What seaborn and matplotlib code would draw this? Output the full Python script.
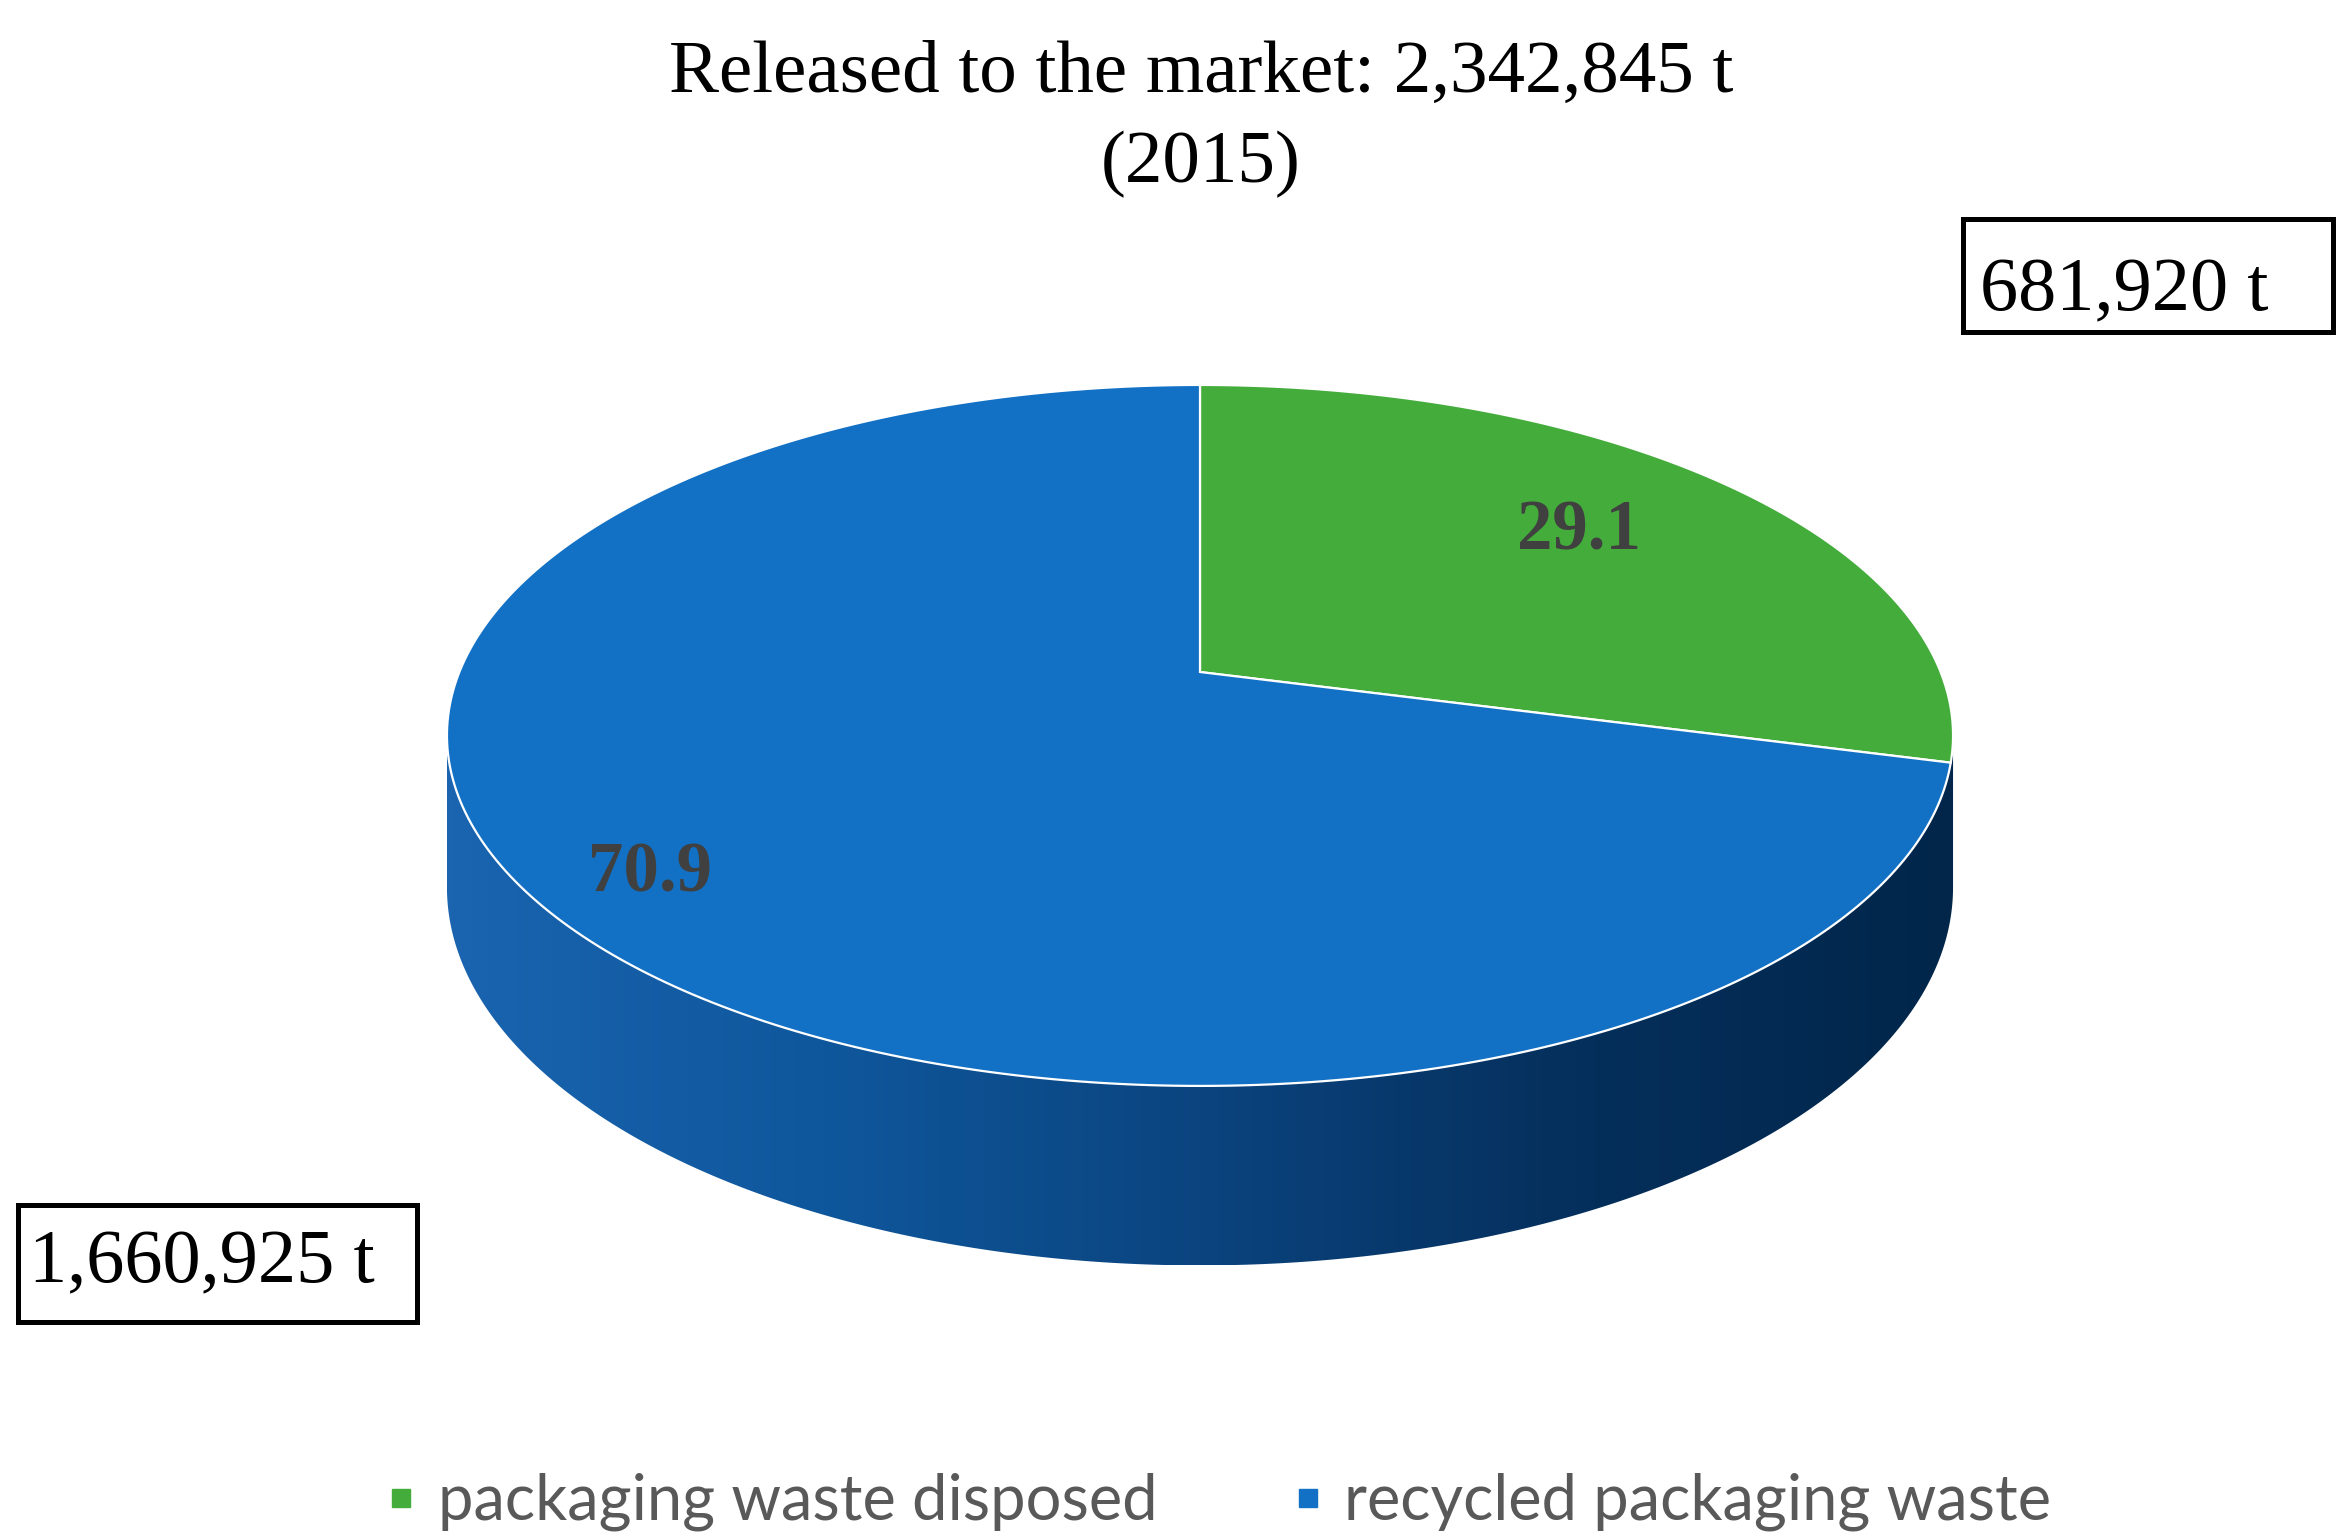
import numpy as np
import matplotlib
matplotlib.use("Agg")
import matplotlib.pyplot as plt
import seaborn as sns
from matplotlib.patches import Rectangle, Polygon
from matplotlib.lines import Line2D
from matplotlib.colors import LinearSegmentedColormap

# data
categories = ["packaging waste disposed", "recycled packaging waste"]
tonnes = [681920, 1660925]
shares = [29.1, 70.9]
title_lines = ["Released to the market: 2,342,845 t", "(2015)"]
slice_colors = ["#43ac3b", "#1271c5"]

sns.set_theme(style="white")
pal = sns.color_palette(slice_colors)

W, H = 2348, 1540
fig = plt.figure(figsize=(W / 100, H / 100), dpi=100)
ax = fig.add_axes([0, 0, 1, 1])

# geometry of the tilted pie, in pixels
CX, CY = 1200, 672
RX, RY = 740.6, 339
K = 0.181        # perspective
DEPTH = 147


def proj(theta, r=1.0, z=0.0):
    u = r * np.cos(theta)
    v = r * np.sin(theta)
    d = 1 + K * v
    return CX + RX * u / d, CY - RY * v / d + z / d


# side wall (front part only)
th = np.linspace(np.pi + np.arcsin(K), 2 * np.pi - np.arcsin(K), 300)
tx, ty = proj(th)
bx, by = proj(th, z=DEPTH)
side_pts = np.column_stack([np.r_[tx, bx[::-1]], np.r_[ty, by[::-1]]])
side = Polygon(side_pts, closed=True, facecolor="none", edgecolor="none")
ax.add_patch(side)
side_cmap = LinearSegmentedColormap.from_list(
    "side", ["#1a64b0", "#0f579c", "#0b447f", "#052f5c", "#01264a"])
grad = np.linspace(0, 1, 256).reshape(1, -1)
im = ax.imshow(grad, cmap=side_cmap, aspect="auto", zorder=1,
               extent=[side_pts[:, 0].min(), side_pts[:, 0].max(),
                       side_pts[:, 1].max(), side_pts[:, 1].min()])
im.set_clip_path(side)

# top face, starting at 12 o'clock, clockwise
frac = np.cumsum([0] + tonnes) / np.sum(tonnes)
label_r = [0.73, 0.85]
for i in range(len(tonnes)):
    a0 = np.pi / 2 - 2 * np.pi * frac[i + 1]
    a1 = np.pi / 2 - 2 * np.pi * frac[i]
    arc = np.linspace(a0, a1, 300)
    ax_, ay_ = proj(arc)
    ax.fill(np.r_[CX, ax_], np.r_[CY, ay_], facecolor=pal[i],
            edgecolor="white", linewidth=1.6, zorder=3)
    lx, ly = proj((a0 + a1) / 2 + (0.05 if i == 0 else 0.0), r=label_r[i])
    ax.text(lx, ly, f"{shares[i]:.1f}", ha="center", va="center_baseline",
            fontsize=51, fontweight="bold", color="#404040",
            family="Liberation Serif", zorder=4)

# title
ax.text(1201, 92, title_lines[0], ha="center", va="baseline", fontsize=54,
        family="Liberation Serif", color="black")
ax.text(1201, 182, title_lines[1], ha="center", va="baseline", fontsize=54,
        family="Liberation Serif", color="black")

# value boxes
ax.add_patch(Rectangle((1963, 219), 370, 113, fill=False, edgecolor="black",
                       linewidth=3.6, zorder=5))
ax.text(1980, 310, f"{tonnes[0]:,} t", ha="left", va="baseline", fontsize=55,
        family="Liberation Serif", color="black", zorder=6)
ax.add_patch(Rectangle((18, 1205), 399, 117, fill=False, edgecolor="black",
                       linewidth=3.6, zorder=5))
ax.text(29, 1282, f"{tonnes[1]:,} t", ha="left", va="baseline", fontsize=55,
        family="Liberation Serif", color="black", zorder=6)

ax.set_xlim(0, W)
ax.set_ylim(H, 0)
ax.axis("off")

handles = [Line2D([], [], marker="s", ls="", color=pal[i], markersize=13)
           for i in range(len(categories))]
fig.legend(handles, categories, loc="center", bbox_to_anchor=(1220 / W, 1 - 1502 / H),
           ncol=2, frameon=False, handlelength=0.4, handletextpad=0.38,
           columnspacing=2.17, prop={"family": "Lato", "size": 45.5},
           labelcolor="#595959")

fig.savefig("out.png", dpi=100)
